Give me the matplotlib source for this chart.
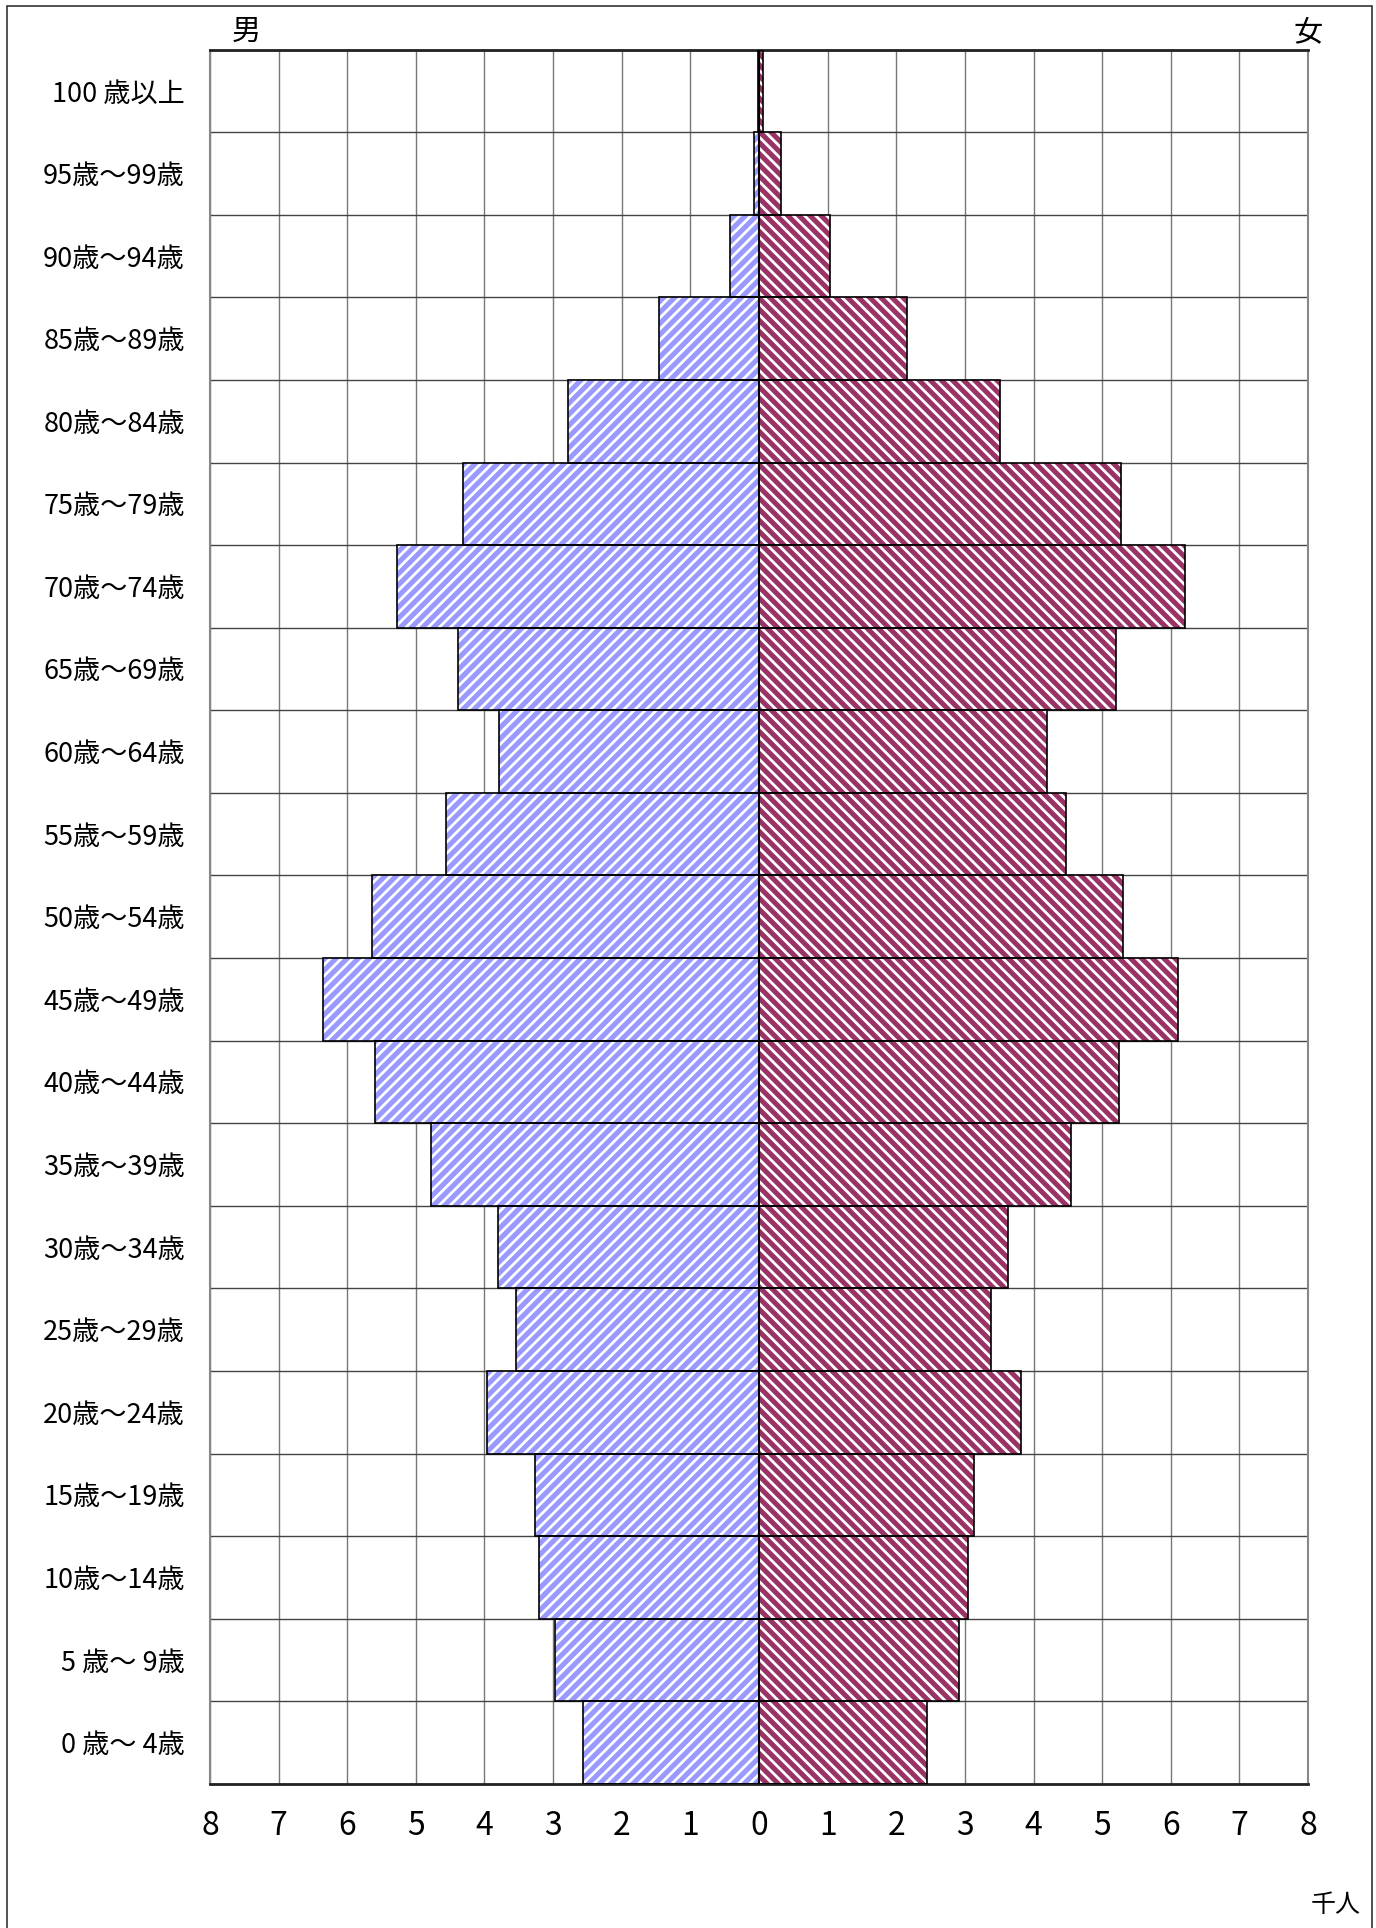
import matplotlib
matplotlib.use("Agg")
import matplotlib.pyplot as plt
from matplotlib.patches import Rectangle
import numpy as np

plt.rcParams['font.family'] = ['Noto Sans CJK JP', 'DejaVu Sans']
plt.rcParams['hatch.linewidth'] = 2.0

# age groups, bottom to top
ages = ['0 歳～ 4歳', '5 歳～ 9歳', '10歳～14歳', '15歳～19歳', '20歳～24歳',
        '25歳～29歳', '30歳～34歳', '35歳～39歳', '40歳～44歳', '45歳～49歳',
        '50歳～54歳', '55歳～59歳', '60歳～64歳', '65歳～69歳', '70歳～74歳',
        '75歳～79歳', '80歳～84歳', '85歳～89歳', '90歳～94歳', '95歳～99歳',
        '100 歳以上']
# thousands of people
male = [2.56, 2.97, 3.20, 3.26, 3.97, 3.54, 3.80, 4.78, 5.60, 6.35,
        5.64, 4.56, 3.79, 4.39, 5.27, 4.32, 2.78, 1.46, 0.42, 0.07, 0.01]
female = [2.45, 2.92, 3.05, 3.14, 3.82, 3.38, 3.63, 4.55, 5.25, 6.11,
          5.30, 4.48, 4.19, 5.20, 6.21, 5.27, 3.51, 2.15, 1.03, 0.32, 0.06]
xticks = list(range(-8, 9))
xticklabels = [str(abs(t)) for t in xticks]

male_color = '#9999ff'
female_color = '#993366'

fig = plt.figure(figsize=(13.76, 19.28), dpi=100)
ax = fig.add_axes([0.1526, 0.0747, 0.798, 0.8996])

y = np.arange(len(ages))
m = -np.array(male)
f = np.array(female)

# grid first so bars sit on top
for t in xticks:
    ax.axvline(t, color='#777777', lw=1.0, zorder=0)
for yy in np.arange(-0.5, len(ages), 1.0):
    ax.axhline(yy, color='#444444', lw=1.0, zorder=0)

# hatched fill, white stripes
ax.barh(y, m, height=1.0, color=male_color, edgecolor='white', linewidth=0,
        hatch='///', zorder=2)
ax.barh(y, f, height=1.0, color=female_color, edgecolor='white', linewidth=0,
        hatch='\\\\\\', zorder=2)
# black outlines
ax.barh(y, m, height=1.0, fill=False, edgecolor='black', linewidth=1.2, zorder=3)
ax.barh(y, f, height=1.0, fill=False, edgecolor='black', linewidth=1.2, zorder=3)
ax.axvline(0, color='black', lw=1.5, zorder=4)

ax.set_xlim(-8, 8)
ax.set_ylim(-0.5, len(ages) - 0.5)
ax.set_xticks(xticks)
ax.set_xticklabels(xticklabels, fontsize=23)
ax.set_yticks(y)
ax.set_yticklabels(ages, fontsize=19.5)
ax.tick_params(axis='both', length=0)
ax.tick_params(axis='y', pad=18)
ax.tick_params(axis='x', pad=19)

for side in ['top', 'bottom']:
    ax.spines[side].set_linewidth(2.0)
    ax.spines[side].set_color('#222222')
for side in ['left', 'right']:
    ax.spines[side].set_linewidth(1.5)
    ax.spines[side].set_color('#888888')

fig.text(246 / 1376, 1 - 32 / 1928, '男', fontsize=21, ha='center', va='center')
fig.text(1308 / 1376, 1 - 32 / 1928, '女', fontsize=21, ha='center', va='center')
fig.text(1336 / 1376, 1 - 1905 / 1928, '千人', fontsize=18, ha='center', va='center')

# outer frame
fig.patches.append(Rectangle((0.005, -0.01), 0.992, 1.0069, transform=fig.transFigure,
                             fill=False, edgecolor='#333333', linewidth=1.2))

fig.savefig('out.png', dpi=100)
